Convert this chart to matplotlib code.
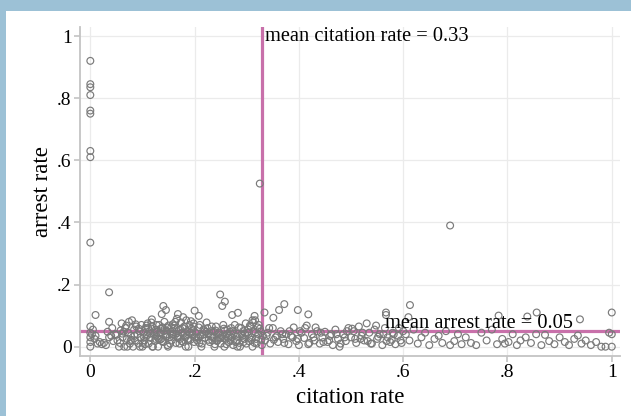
"""
Arrest rate against citation rate, with the two means marked.
"""
#Imports
import matplotlib
matplotlib.use("Agg")
import matplotlib.pyplot as plt
from matplotlib.patches import Rectangle

# Data
# dense band, citation rate 0 - 0.1
cit_a = [0.000, 0.000, 0.000, 0.000, 0.000, 0.003, 0.005, 0.008, 0.010, 0.014, 0.018, 0.022, 0.026, 0.030,
         0.033, 0.036, 0.040, 0.044, 0.048, 0.052, 0.055, 0.058, 0.060, 0.062, 0.065, 0.067, 0.070, 0.072,
         0.074, 0.076, 0.078, 0.080, 0.082, 0.084, 0.086, 0.088, 0.090, 0.092, 0.094, 0.096, 0.098, 0.100]
arr_a = [0.065, 0.045, 0.030, 0.015, 0.000, 0.040, 0.055, 0.025, 0.035, 0.010, 0.015, 0.008, 0.012, 0.005,
         0.048, 0.030, 0.035, 0.018, 0.040, 0.020, 0.000, 0.052, 0.075, 0.030, 0.000, 0.060, 0.025, 0.045,
         0.080, 0.010, 0.035, 0.085, 0.000, 0.055, 0.020, 0.065, 0.040, 0.010, 0.050, 0.030, 0.070, 0.000]

# dense band, citation rate 0.1 - 0.2
cit_b = [0.102, 0.104, 0.106, 0.108, 0.110, 0.112, 0.114, 0.116, 0.118, 0.120, 0.122, 0.124, 0.126, 0.128,
         0.130, 0.132, 0.134, 0.136, 0.138, 0.140, 0.142, 0.144, 0.146, 0.148, 0.150, 0.152, 0.154, 0.156,
         0.158, 0.160, 0.162, 0.164, 0.166, 0.168, 0.170, 0.172, 0.174, 0.176, 0.178, 0.180, 0.182, 0.184,
         0.186, 0.188, 0.190, 0.192, 0.194, 0.196, 0.198, 0.200,
         0.105, 0.115, 0.125, 0.135, 0.145, 0.155, 0.165, 0.175, 0.185, 0.195, 0.108, 0.128, 0.148, 0.168,
         0.188, 0.118, 0.138, 0.158, 0.178, 0.198]
arr_b = [0.045, 0.020, 0.060, 0.035, 0.075, 0.010, 0.050, 0.028, 0.065, 0.000, 0.040, 0.018, 0.055, 0.032,
         0.000, 0.070, 0.045, 0.025, 0.060, 0.015, 0.080, 0.038, 0.052, 0.005, 0.068, 0.030, 0.048, 0.020,
         0.072, 0.040, 0.060, 0.012, 0.090, 0.035, 0.055, 0.025, 0.078, 0.045, 0.015, 0.065, 0.030, 0.085,
         0.050, 0.000, 0.070, 0.022, 0.058, 0.040, 0.075, 0.030,
         0.008, 0.042, 0.025, 0.058, 0.033, 0.062, 0.042, 0.018, 0.036, 0.050, 0.068, 0.048, 0.062, 0.028,
         0.020, 0.088, 0.018, 0.040, 0.095, 0.065]

# dense band, citation rate 0.2 - 0.33
cit_c = [0.202, 0.205, 0.208, 0.211, 0.214, 0.217, 0.220, 0.223, 0.226, 0.229, 0.232, 0.235, 0.238, 0.241,
         0.244, 0.247, 0.250, 0.253, 0.256, 0.259, 0.262, 0.265, 0.268, 0.271, 0.274, 0.277, 0.280, 0.283,
         0.286, 0.289, 0.292, 0.295, 0.298, 0.301, 0.304, 0.307, 0.310, 0.313, 0.316, 0.319, 0.322, 0.325,
         0.328, 0.331,
         0.210, 0.222, 0.234, 0.246, 0.258, 0.270, 0.282, 0.294, 0.306, 0.318, 0.215, 0.240, 0.265, 0.290,
         0.312]
arr_c = [0.045, 0.020, 0.062, 0.035, 0.010, 0.055, 0.028, 0.078, 0.040, 0.015, 0.050, 0.030, 0.000, 0.065,
         0.022, 0.045, 0.010, 0.035, 0.058, 0.025, 0.040, 0.015, 0.048, 0.030, 0.005, 0.070, 0.020, 0.042,
         0.012, 0.060, 0.035, 0.025, 0.075, 0.045, 0.018, 0.065, 0.030, 0.050, 0.085, 0.010, 0.040, 0.058,
         0.022, 0.035,
         0.070, 0.048, 0.020, 0.030, 0.052, 0.060, 0.000, 0.015, 0.068, 0.025, 0.038, 0.052, 0.028, 0.040,
         0.078]

# more of the dense band, citation rate 0.04 - 0.33
cit_f = [0.042, 0.050, 0.057, 0.064, 0.071, 0.079, 0.087, 0.095, 0.103, 0.111, 0.119, 0.127, 0.133, 0.141,
         0.149, 0.157, 0.163, 0.171, 0.177, 0.183, 0.191, 0.199, 0.207, 0.213, 0.219, 0.227, 0.233, 0.239,
         0.245, 0.251, 0.257, 0.263, 0.269, 0.275, 0.281, 0.287, 0.293, 0.299, 0.305, 0.311, 0.317, 0.323,
         0.329,
         0.061, 0.069, 0.077, 0.085, 0.093, 0.101, 0.109, 0.117, 0.123, 0.131, 0.139, 0.147, 0.153, 0.161,
         0.167, 0.173, 0.181, 0.187, 0.193, 0.203, 0.209, 0.218, 0.225, 0.231, 0.237, 0.243, 0.249, 0.255,
         0.261, 0.267, 0.273, 0.279, 0.285, 0.297, 0.303, 0.309, 0.315, 0.321, 0.327]
arr_f = [0.060, 0.038, 0.012, 0.048, 0.000, 0.022, 0.072, 0.000, 0.030, 0.060, 0.000, 0.070, 0.022, 0.050,
         0.000, 0.035, 0.080, 0.010, 0.060, 0.000, 0.045, 0.015, 0.030, 0.000, 0.050, 0.022, 0.065, 0.008,
         0.040, 0.028, 0.000, 0.055, 0.018, 0.042, 0.032, 0.000, 0.050, 0.010, 0.028, 0.000, 0.045, 0.070,
         0.005,
         0.042, 0.068, 0.018, 0.035, 0.058, 0.012, 0.038, 0.078, 0.045, 0.025, 0.062, 0.040, 0.010, 0.068,
         0.030, 0.055, 0.045, 0.025, 0.082, 0.030, 0.012, 0.040, 0.060, 0.033, 0.048, 0.018, 0.028, 0.070,
         0.008, 0.035, 0.050, 0.015, 0.062, 0.042, 0.055, 0.022, 0.012, 0.062, 0.048]

# middle, citation rate 0.33 - 0.6
cit_d = [0.335, 0.340, 0.345, 0.350, 0.355, 0.360, 0.365, 0.370, 0.375, 0.380, 0.385, 0.390, 0.395, 0.400,
         0.405, 0.410, 0.415, 0.420, 0.425, 0.430, 0.435, 0.440, 0.445, 0.450, 0.455, 0.460, 0.465, 0.470,
         0.475, 0.480, 0.485, 0.490, 0.495, 0.500, 0.505, 0.510, 0.515, 0.520, 0.525, 0.530, 0.535, 0.540,
         0.545, 0.550, 0.555, 0.560, 0.565, 0.570, 0.575, 0.580, 0.585, 0.590, 0.595, 0.600,
         0.338, 0.352, 0.368, 0.382, 0.398, 0.412, 0.428, 0.442, 0.458, 0.472, 0.488, 0.502, 0.518, 0.532,
         0.548, 0.562, 0.578, 0.592,
         0.343, 0.358, 0.372, 0.388, 0.402, 0.418, 0.432, 0.447, 0.462, 0.478, 0.492, 0.508, 0.522, 0.538,
         0.552, 0.568, 0.582, 0.597]
arr_d = [0.020, 0.045, 0.010, 0.060, 0.030, 0.015, 0.050, 0.025, 0.040, 0.008, 0.035, 0.062, 0.018, 0.005,
         0.045, 0.028, 0.068, 0.012, 0.040, 0.020, 0.050, 0.010, 0.030, 0.048, 0.015, 0.035, 0.005, 0.055,
         0.025, 0.010, 0.040, 0.018, 0.060, 0.030, 0.050, 0.012, 0.065, 0.035, 0.020, 0.075, 0.045, 0.010,
         0.055, 0.025, 0.040, 0.005, 0.060, 0.030, 0.015, 0.045, 0.008, 0.035, 0.020, 0.050,
         0.035, 0.022, 0.040, 0.050, 0.025, 0.060, 0.030, 0.045, 0.020, 0.040, 0.030, 0.058, 0.025, 0.018,
         0.068, 0.040, 0.022, 0.060,
         0.060, 0.035, 0.012, 0.030, 0.050, 0.008, 0.062, 0.015, 0.040, 0.000, 0.050, 0.025, 0.045, 0.010,
         0.032, 0.018, 0.040, 0.012]

# sparse, citation rate 0.6 - 1
cit_e = [0.605, 0.612, 0.620, 0.628, 0.635, 0.642, 0.650, 0.660, 0.668, 0.675, 0.682, 0.690, 0.698, 0.705,
         0.712, 0.720, 0.730, 0.740, 0.750, 0.760, 0.770, 0.780, 0.790, 0.795, 0.802, 0.810, 0.818, 0.825,
         0.835, 0.845, 0.855, 0.865, 0.872, 0.880, 0.890, 0.900, 0.910, 0.918, 0.928, 0.935, 0.942, 0.950,
         0.960, 0.970, 0.980, 0.988, 0.995, 1.000, 1.000]
arr_e = [0.040, 0.020, 0.055, 0.010, 0.030, 0.045, 0.005, 0.025, 0.035, 0.012, 0.050, 0.005, 0.018, 0.040,
         0.008, 0.030, 0.012, 0.005, 0.045, 0.020, 0.055, 0.008, 0.025, 0.010, 0.015, 0.040, 0.005, 0.020,
         0.030, 0.012, 0.040, 0.005, 0.038, 0.018, 0.008, 0.030, 0.015, 0.005, 0.025, 0.036, 0.010, 0.020,
         0.005, 0.015, 0.000, 0.000, 0.045, 0.040, 0.000]

# points away from the band
cit_out = [0.0, 0.0, 0.0, 0.0, 0.0, 0.0, 0.0, 0.0, 0.0, 0.010, 0.036, 0.036, 0.140, 0.145, 0.137,
           0.168, 0.200, 0.208, 0.249, 0.258, 0.253, 0.272, 0.283, 0.315, 0.311, 0.325, 0.334, 0.351,
           0.362, 0.372, 0.398, 0.418, 0.567, 0.567, 0.610, 0.613, 0.690, 0.783, 0.838, 0.856, 0.939, 1.000]
arr_out = [0.920, 0.845, 0.835, 0.810, 0.760, 0.750, 0.630, 0.610, 0.335, 0.102, 0.175, 0.080, 0.131,
           0.118, 0.105, 0.105, 0.116, 0.099, 0.168, 0.145, 0.131, 0.102, 0.109, 0.099, 0.085, 0.525,
           0.110, 0.093, 0.118, 0.137, 0.118, 0.104, 0.110, 0.102, 0.095, 0.134, 0.390, 0.100, 0.097,
           0.110, 0.088, 0.110]

mean_citation = 0.33
mean_arrest = 0.05
tick_vals = [0, 0.2, 0.4, 0.6, 0.8, 1]
tick_labels = ["0", ".2", ".4", ".6", ".8", "1"]

citation = cit_a + cit_b + cit_c + cit_f + cit_d + cit_e + cit_out
arrest = arr_a + arr_b + arr_c + arr_f + arr_d + arr_e + arr_out

# Colours
frame_blue = "#9cc1d6"
line_pink = "#c870aa"
axis_gray = "#c4c4c4"

plt.rcParams["font.family"] = ["Liberation Serif", "DejaVu Serif"]

fig = plt.figure(figsize=(6.31, 4.16), dpi=100, facecolor="white")
#blue frame strips on the left and top
fig.patches.append(Rectangle((0, 0), 6 / 631, 1, transform=fig.transFigure,
                             facecolor=frame_blue, edgecolor="none"))
fig.patches.append(Rectangle((0, (416 - 11) / 416), 1, 11 / 416, transform=fig.transFigure,
                             facecolor=frame_blue, edgecolor="none"))

ax = fig.add_axes([80 / 631, 60 / 416, 540 / 631, 329 / 416])
ax.set_facecolor("white")

ax.axvline(mean_citation, color=line_pink, linewidth=2.3, zorder=2)
ax.axhline(mean_arrest, color=line_pink, linewidth=2.3, zorder=2)

ax.scatter(citation, arrest, s=24, facecolors="none", edgecolors="#7a7a7a", linewidths=0.85, zorder=3)

ax.text(mean_citation + 0.005, 1.0, "mean citation rate = 0.33", fontsize=14.7, va="center", ha="left", zorder=4)
ax.text(0.566, 0.075, "mean arrest rate = 0.05", fontsize=14.7, va="center", ha="left", zorder=4)

ax.set_xlim(-0.0198, 1.0158)
ax.set_ylim(-0.030, 1.029)
ax.set_xticks(tick_vals)
ax.set_xticklabels(tick_labels)
ax.set_yticks(tick_vals)
ax.set_yticklabels(tick_labels)

ax.grid(True, color="#ebebeb", linewidth=0.9)
ax.set_axisbelow(True)
for side in ["top", "right"]:
    ax.spines[side].set_visible(False)
for side in ["left", "bottom"]:
    ax.spines[side].set_color(axis_gray)
    ax.spines[side].set_linewidth(1.3)
ax.tick_params(colors=axis_gray, labelcolor="black", length=4, width=1.2, labelsize=14, pad=2)

ax.set_xlabel("citation rate", fontsize=16.5, labelpad=4)
ax.set_ylabel("arrest rate", fontsize=16.5, labelpad=3)

fig.savefig("out.png", dpi=100)
